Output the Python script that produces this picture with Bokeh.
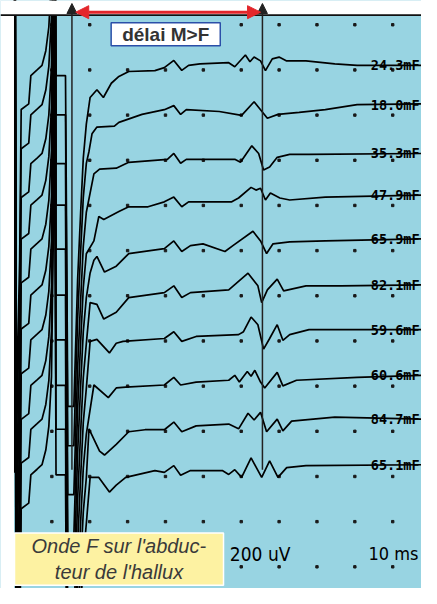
from bokeh.plotting import figure
from bokeh.models import Range1d, Label, Arrow, NormalHead, Span, BoxAnnotation
from bokeh.core.properties import value
from bokeh.embed import file_html
from bokeh.resources import INLINE

# ---------------- data ----------------
uv_per_div = 200.0
ms_per_div = 10.0

# trace labels (right side)
trace_labels = ["24.3mF", "18.0mF", "35.3mF", "47.9mF", "65.9mF",
                "82.1mF", "59.6mF", "60.6mF", "84.7mF", "65.1mF"]
# vertical display offset of each trace (divisions)
trace_offsets = [11.10, 10.23, 9.15, 8.23, 7.26, 6.24, 5.25, 4.24, 3.27, 2.26]

# common stimulus artefact / saturated M response (ms, uV)
m_t = [0, 0.25, 0.64, 1.5, 1.9, 3.9, 4.45, 6.1, 7.4, 8.4, 9.2, 9.9, 10.6, 10.8,
       11.1, 13.6, 14.2, 15.8, 16.8, 17.6, 18.3, 19.1]
m_uv = [-35, 1290, -1510, -860, -195, -170, -45, -20, 0, 65, 170, 390, 1290, 1290,
        -45, -45, -1510, -1510, -950, -650, -410, -260]

# individual traces after the M response (ms, uV)
t1_t = [20.1, 21.9, 23.6, 25.7, 27.7, 30.3, 37.2, 39.7, 42.2, 44.3, 46.1, 49.1, 56.7, 58.3,
        61.1, 62.3, 63.4, 65.1, 66.4, 68.2, 70.0, 72.0, 77.1, 84.7, 90.6, 107.6]
t1_v = [-142, -108, -142, -79, -49, -27, -23, -10, 22, -22, 0, 7, 12, -6,
        46, 16, 37, 20, -23, 29, 37, 20, 20, 7, 0, 0]
t2_t = [19.8, 20.6, 21.9, 26.5, 27.7, 33.8, 39.7, 42.2, 44.0, 45.5, 54.2, 60.1, 63.4, 65.1,
        66.9, 69.7, 75.3, 82.2, 90.6, 107.6]
t2_v = [-207, -129, -99, -95, -78, -43, -22, -4, -43, -22, -30, -47, 13, -22,
        -60, -43, -34, -22, 0, 4]
t3_t = [21.1, 22.6, 27.0, 30.3, 40.5, 42.2, 44.0, 45.5, 58.3, 59.8, 62.8, 64.6, 65.9, 67.5,
        69.5, 72.8, 77.9, 107.6]
t3_v = [-90, -69, -65, -39, -26, 0, -43, -26, -26, -39, 34, 0, -73, -60,
        -17, -4, -4, 0]
t4_t = [21.1, 22.4, 23.7, 27.7, 30.3, 35.4, 39.7, 42.2, 44.3, 46.1, 57.5, 59.3, 62.6, 63.9,
        65.1, 66.4, 67.7, 70.2, 72.8, 82.2, 107.6]
t4_v = [-203, -95, -108, -73, -52, -52, -30, -9, -52, -30, -30, -13, 34, 22,
        30, -22, 9, -13, -22, -9, 0]
t5_t = [20.1, 21.1, 21.9, 23.9, 27.0, 30.3, 39.7, 42.2, 44.3, 46.6, 49.9, 55.7, 57.8, 63.1,
        65.1, 66.7, 68.4, 72.8, 82.2, 107.6]
t5_v = [-151, -95, -78, -147, -121, -65, -43, -9, -56, -30, -22, -56, -30, 34,
        -9, -65, -22, -13, -9, 0]
t6_t = [20.1, 21.9, 23.7, 27.0, 30.3, 39.7, 42.2, 44.3, 46.6, 56.7, 61.8, 64.4, 65.4, 66.9,
        69.5, 71.2, 77.1, 86.3, 107.6]
t6_v = [-78, -86, -151, -121, -56, -34, -4, -56, -34, -22, 52, -4, -78, -22,
        26, -26, -4, -4, 0]
t7_t = [20.1, 21.9, 25.2, 27.0, 28.8, 39.7, 42.2, 44.3, 48.1, 59.3, 60.6, 62.6, 64.4, 65.9,
        67.5, 69.5, 71.0, 72.8, 77.9, 107.6]
t7_v = [-52, -43, -103, -60, -52, -39, -9, -52, -30, -22, -9, 56, 22, -86,
        -39, 22, -47, -22, 0, 0]
t8_t = [21.1, 24.9, 27.0, 29.5, 39.7, 42.2, 44.0, 48.1, 56.7, 58.3, 59.5, 61.6, 62.6, 63.6,
        65.1, 66.2, 69.5, 71.0, 74.6, 90.6, 107.6]
t8_v = [-43, -99, -56, -52, -43, -9, -43, -30, -22, 0, -30, 17, -4, 22,
        -30, -56, 13, -47, -22, -9, 0]
t9_t = [19.8, 22.6, 23.9, 27.0, 30.3, 34.6, 39.7, 42.2, 44.3, 48.1, 56.7, 59.3, 61.8, 63.4,
        65.1, 66.7, 69.5, 71.0, 73.3, 84.7, 107.6]
t9_v = [-43, -142, -159, -112, -56, -47, -47, -13, -56, -30, -22, -43, 26, -4,
        30, -56, 0, -52, -9, 9, 0]
t10_t = [20.1, 22.4, 25.2, 27.0, 29.5, 37.2, 39.7, 42.2, 44.0, 46.6, 55.0, 56.7, 58.3, 60.1,
         62.6, 65.4, 67.5, 69.7, 72.0, 77.1, 107.6]
t10_v = [-56, -56, -121, -90, -56, -26, -34, -4, -47, -26, -26, -43, -22, -56,
         30, -56, 17, -56, -13, -4, 0]

traces_t = [t1_t, t2_t, t3_t, t4_t, t5_t, t6_t, t7_t, t8_t, t9_t, t10_t]
traces_v = [t1_v, t2_v, t3_v, t4_v, t5_v, t6_v, t7_v, t8_v, t9_v, t10_v]

m_latency = 15.3   # ms
f_latency = 65.6   # ms
grid_t = [10, 20, 30, 40, 50, 60, 70, 80, 90, 100]
grid_div = [0, 1, 2, 3, 4, 5, 6, 7, 8, 9, 10, 11, 12]

screen_top = 12.214    # top edge of the oscilloscope screen (div)
t_end = 107.6

# ---------------- figure ----------------
BLUE = "#98d4e2"
p = figure(width=421, height=588, output_backend="svg", toolbar_location=None,
           x_range=Range1d(-3.562, t_end), y_range=Range1d(-0.48, 12.537),
           x_axis_location=None, y_axis_location=None,
           min_border=0, min_border_left=0, min_border_top=0,
           min_border_right=0, min_border_bottom=0,
           background_fill_color=BLUE, border_fill_color="white", outline_line_color=None)
p.xgrid.visible = False
p.ygrid.visible = False

# grid dots
gx = [t for t in grid_t for d in grid_div]
gy = [d for t in grid_t for d in grid_div]
p.scatter(gx, gy, marker="square", size=2.4, color="#1a1a1a")

# traces
for off, tt, vv in zip(trace_offsets, traces_t, traces_v):
    xs = m_t + tt
    ys = [off + v / uv_per_div for v in (m_uv + vv)]
    p.line(xs, ys, line_width=1.7, color="black")

# right-hand labels
label_t = 94.2
p.text(x=[label_t] * len(trace_labels), y=trace_offsets, text=trace_labels,
       text_font=value("DejaVu Sans Mono"), text_font_size="13.5px", text_font_style="bold",
       text_baseline="alphabetic", text_align="left", text_color="black")

# white page margins outside the screen
p.add_layout(BoxAnnotation(bottom=screen_top, fill_color="white", fill_alpha=1, line_color=None))
p.add_layout(BoxAnnotation(right=0, fill_color="white", fill_alpha=1, line_color=None))

# top border of the screen
p.add_layout(Span(location=screen_top, dimension="width", line_color="#111", line_width=1.6))

# M and F markers
for lat in (m_latency, f_latency):
    p.add_layout(Arrow(end=NormalHead(size=10, fill_color="#222", line_color="#222"),
                       x_start=lat, y_start=2.15, x_end=lat, y_end=12.47,
                       line_color="#222", line_width=1.5))

RED = "#e3262b"
p.add_layout(Arrow(start=NormalHead(size=13, fill_color=RED, line_color=RED),
                   end=NormalHead(size=13, fill_color=RED, line_color=RED),
                   x_start=16.3, y_start=12.278, x_end=65.1, y_end=12.278,
                   line_color=RED, line_width=3))

p.add_layout(Label(x=40.06, y=11.79, text="délai M>F", text_align="center",
                   text_baseline="middle", text_font="Liberation Sans",
                   text_font_size="19px", text_font_style="bold", text_color="#333333",
                   background_fill_color="white", border_line_color="#2b4fa8",
                   border_line_width=1.5,
                   padding=dict(left=11, right=11, top=1, bottom=1)))

p.add_layout(Label(x=27.73, y=0.17, text="Onde F sur l'abduc-\nteur de l'hallux",
                   text_align="center", text_baseline="middle",
                   text_font="Liberation Sans", text_font_size="20px",
                   text_font_style="italic", text_color="#3a3a3a",
                   background_fill_color="#fdf2a2", border_line_color="white",
                   border_line_width=1.5,
                   padding=dict(left=17, right=17, top=2, bottom=2)))

p.add_layout(Label(x=57.0, y=0.294, text="200 uV",
                   text_font="'DejaVu Sans Condensed', 'Liberation Sans'",
                   text_font_size="19px", text_color="black", text_baseline="alphabetic"))
p.add_layout(Label(x=93.6, y=0.294, text="10 ms",
                   text_font="'DejaVu Sans Condensed', 'Liberation Sans'",
                   text_font_size="18px", text_color="black", text_baseline="alphabetic"))

open("out.html", "w").write(file_html(p, INLINE))
